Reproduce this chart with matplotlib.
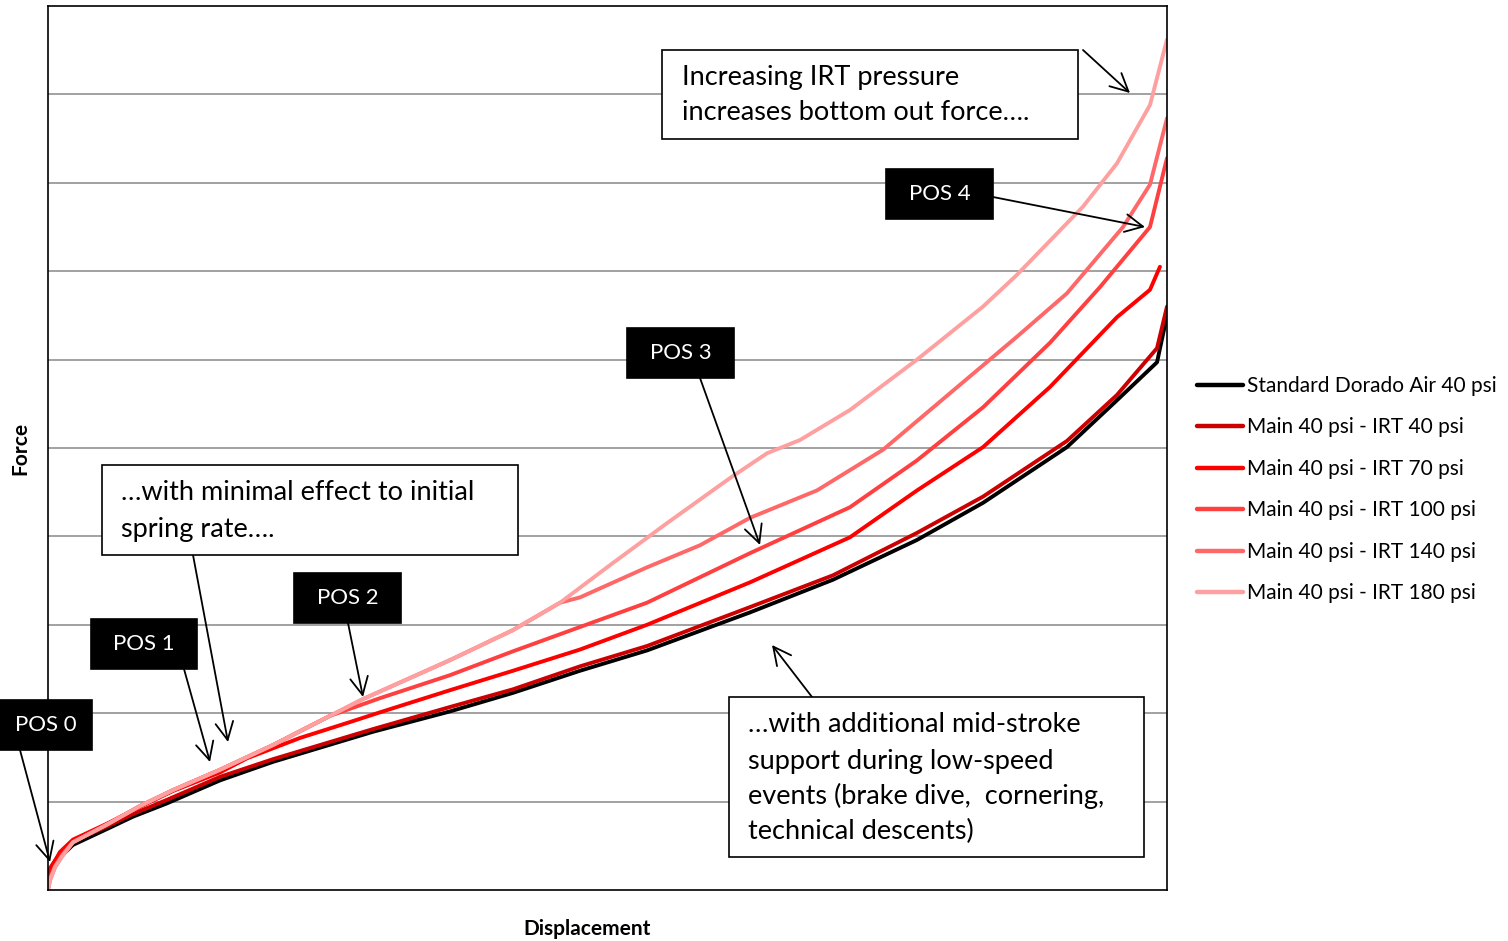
import matplotlib
matplotlib.use("Agg")
import matplotlib.pyplot as plt
from matplotlib.patches import Rectangle

plt.rcParams['font.family'] = ['Lato', 'DejaVu Sans']

# displacement (0-100 % of stroke) and force (arbitrary units, one per gridline)
disp_std = [0, 1.07, 2.23, 5.27, 7.60, 10.63, 15.37, 20.11, 29.04, 35.92, 41.55, 47.54,
            53.53, 62.73, 70.15, 77.66, 83.56, 91.06, 95.53, 99.11, 100]
force_std = [0.19, 0.37, 0.51, 0.69, 0.83, 0.98, 1.24, 1.45, 1.79, 2.02, 2.23, 2.48,
             2.71, 3.14, 3.51, 3.96, 4.38, 5.01, 5.54, 5.97, 6.50]

disp_irt40 = disp_std
force_irt40 = [0.21, 0.42, 0.55, 0.72, 0.86, 1.02, 1.28, 1.48, 1.82, 2.07, 2.27, 2.53,
               2.76, 3.20, 3.56, 4.04, 4.45, 5.08, 5.60, 6.13, 6.60]

disp_irt70 = [0, 1.07, 2.23, 5.27, 8.22, 11.17, 15.37, 17.78, 22.52, 26.99, 29.67, 35.92,
              41.55, 47.54, 53.53, 62.73, 71.67, 77.66, 83.56, 89.54, 95.53, 98.48, 99.37]
force_irt70 = [0.18, 0.43, 0.57, 0.75, 0.94, 1.12, 1.33, 1.49, 1.72, 1.90, 2.01, 2.26,
               2.48, 2.72, 3.00, 3.48, 3.99, 4.52, 5.01, 5.69, 6.48, 6.79, 7.05]

disp_irt100 = [0, 0.18, 0.63, 1.25, 2.23, 5.27, 8.22, 11.17, 15.37, 20.11, 25.20, 29.67,
               35.92, 41.55, 53.53, 62.73, 71.67, 77.66, 83.56, 89.54, 94.01, 98.48, 100]
force_irt100 = [0.02, 0.14, 0.27, 0.40, 0.54, 0.74, 0.95, 1.13, 1.36, 1.64, 1.97, 2.17,
                2.43, 2.70, 3.25, 3.81, 4.33, 4.86, 5.46, 6.19, 6.82, 7.50, 8.28]

disp_irt140 = [0, 0.18, 0.63, 1.25, 2.23, 5.27, 8.22, 11.17, 15.37, 20.11, 28.15, 35.92,
               41.55, 45.76, 47.54, 53.53, 58.27, 62.73, 68.72, 74.62, 80.61, 86.60,
               91.06, 96.07, 98.48, 100]
force_irt140 = [0, 0.11, 0.26, 0.38, 0.54, 0.74, 0.95, 1.13, 1.36, 1.64, 2.16, 2.60,
                2.94, 3.25, 3.31, 3.65, 3.90, 4.21, 4.52, 4.98, 5.62, 6.26,
                6.75, 7.50, 7.98, 8.73]

disp_irt180 = [0, 0.18, 0.63, 1.25, 2.23, 5.27, 8.22, 11.17, 15.37, 20.11, 28.15, 35.92,
               41.55, 45.76, 50.49, 55.32, 60.95, 64.25, 67.20, 71.67, 77.66, 83.56,
               86.60, 92.49, 95.53, 98.48, 100]
force_irt180 = [0, 0.11, 0.26, 0.38, 0.54, 0.74, 0.95, 1.13, 1.36, 1.64, 2.16, 2.60,
                2.94, 3.25, 3.70, 4.15, 4.66, 4.94, 5.09, 5.43, 6.00, 6.60,
                6.96, 7.73, 8.22, 8.88, 9.62]

labels = ['Standard Dorado Air 40 psi', 'Main 40 psi - IRT 40 psi', 'Main 40 psi - IRT 70 psi',
          'Main 40 psi - IRT 100 psi', 'Main 40 psi - IRT 140 psi', 'Main 40 psi - IRT 180 psi']
colors = ['#000000', '#CC0000', '#FF0000', '#FF4040', '#FF6868', '#FFA0A0']

W, H = 1508, 941


def fp(x, y):
    # image pixel (from top-left) -> figure fraction
    return (x / W, 1 - y / H)


fig = plt.figure(figsize=(W / 100, H / 100), dpi=100)
ax = fig.add_axes([48 / W, 51 / H, 1119 / W, 884 / H])

series = [(disp_std, force_std), (disp_irt40, force_irt40), (disp_irt70, force_irt70),
          (disp_irt100, force_irt100), (disp_irt140, force_irt140), (disp_irt180, force_irt180)]
for (x, y), c, lab in zip(series, colors, labels):
    ax.plot(x, y, color=c, lw=2.8, label=lab, solid_capstyle='round', solid_joinstyle='round')

ax.set_xlim(0, 100)
ax.set_ylim(0, 10)
ax.set_yticks(range(1, 10))
ax.set_xticks([])
ax.tick_params(left=False, labelleft=False)
ax.grid(axis='y', color='#9a9a9a', lw=1.3)
ax.set_axisbelow(True)
for s in ax.spines.values():
    s.set_color('black')
    s.set_linewidth(1.2)

leg = ax.legend(loc='upper left', bbox_to_anchor=fp(1197, 376), bbox_transform=fig.transFigure,
                frameon=False, fontsize=15, handlelength=2.2, handletextpad=0.2,
                labelspacing=1.03, borderaxespad=0, borderpad=0)
for h in leg.get_lines():
    h.set_linewidth(3.2)

fig.text(*fp(20, 448), 'Force', rotation=90, ha='center', va='center', fontsize=15, fontweight='bold')
fig.text(*fp(587, 929), 'Displacement', ha='center', va='center', fontsize=15, fontweight='bold')


def box(x0, y0, x1, y1, dark):
    r = Rectangle(fp(x0, y1), (x1 - x0) / W, (y1 - y0) / H, transform=fig.transFigure,
                  facecolor='black' if dark else 'white', edgecolor='black', lw=1.2, zorder=5)
    fig.add_artist(r)


def arrow(x0, y0, x1, y1):
    ax.annotate('', xy=fp(x1, y1), xytext=fp(x0, y0), xycoords='figure fraction',
                textcoords='figure fraction',
                arrowprops=dict(arrowstyle='->', lw=1.3, color='black', mutation_scale=32,
                                shrinkA=0, shrinkB=0), zorder=6)


def pos_box(x0, y0, x1, y1, text):
    box(x0, y0, x1, y1, True)
    fig.text(*fp((x0 + x1) / 2, (y0 + y1) / 2), text, color='white', ha='center', va='center',
             fontsize=16, zorder=7)


def note(x0, y0, x1, y1, tx, lines_y, lines):
    box(x0, y0, x1, y1, False)
    for ly, t in zip(lines_y, lines):
        fig.text(*fp(tx, ly), t, ha='left', va='center', fontsize=19.5, zorder=7)


note(662, 50, 1078, 139, 682, [78, 112],
     ['Increasing IRT pressure', 'increases bottom out force….'])
arrow(1083, 50, 1130, 93)

pos_box(886, 169, 993, 219, 'POS 4')
arrow(993, 197, 1145, 227)

pos_box(627, 328, 734, 378, 'POS 3')
arrow(700, 378, 760, 545)

note(102, 465, 518, 555, 121, [493, 529],
     ['…with minimal effect to initial', 'spring rate….'])
arrow(193, 555, 228, 742)

pos_box(294, 573, 401, 623, 'POS 2')
arrow(348, 623, 363, 697)

pos_box(91, 619, 197, 669, 'POS 1')
arrow(184, 669, 210, 762)

pos_box(0, 700, 92, 750, 'POS 0')
arrow(20, 750, 50, 862)

note(729, 697, 1144, 857, 748, [725, 761, 796, 831],
     ['…with additional mid-stroke', 'support during low-speed',
      'events (brake dive,  cornering,', 'technical descents)'])
arrow(812, 697, 772, 645)

fig.savefig('out.png', dpi=100)
